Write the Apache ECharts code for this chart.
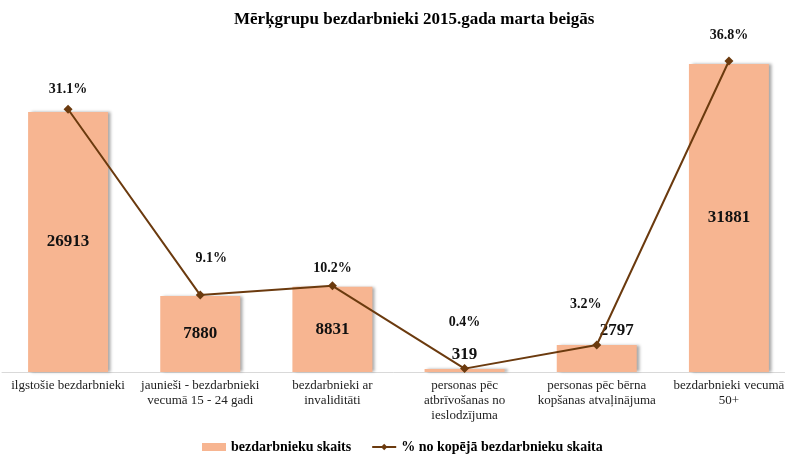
<!DOCTYPE html>
<html>
<head>
<meta charset="utf-8">
<script src="https://cdn.jsdelivr.net/npm/echarts@6/dist/echarts.min.js"></script>
<style>
 html, body { margin: 0; padding: 0; background: #fff; }
 #chart { width: 785px; height: 454px; }
</style>
</head>
<body>
<div id="chart"></div>
<script>
const categories = [
 'ilgstošie bezdarbnieki',
 'jaunieši - bezdarbnieki\nvecumā 15 - 24 gadi',
 'bezdarbnieki ar\ninvaliditāti',
 'personas pēc\natbrīvošanas no\nieslodzījuma',
 'personas pēc bērna\nkopšanas atvaļinājuma',
 'bezdarbnieki vecumā\n50+'
]
const counts = [26913, 7880, 8831, 319, 2797, 31881]
const shares = [31.1, 9.1, 10.2, 0.4, 3.2, 36.8]

// label nudges
const countLabelPos = ['inside', 'inside', 'inside', 'top', 'top', 'inside']
const countLabelOffset = [[0, 0], [0, 0], [0, 0], [0, 0], [20, 0], [0, 0]]
const shareLabelOffset = [[0, -3], [11, -20], [0, -1], [0, -30], [-11, -24], [0, -9]]

const serif = '"Liberation Serif", "Times New Roman", serif'
const barColor = '#F7B591'
const lineColor = '#6B3A0E'

const chart = echarts.init(document.getElementById('chart'))

chart.setOption({
 animation: false,
 backgroundColor: '#fff',
 title: {
 text: 'Mērķgrupu bezdarbnieki 2015.gada marta beigās',
 left: 229,
 top: 6,
 textStyle: { fontFamily: serif, fontSize: 17, fontWeight: 'bold', color: '#000' }
 },
 legend: {
 top: 435,
 left: 197,
 itemGap: 20,
 textStyle: { fontFamily: serif, fontSize: 14, fontWeight: 'bold', color: '#000' },
 data: [
 { name: 'bezdarbnieku skaits', icon: 'rect', itemStyle: { shadowBlur: 0, shadowOffsetX: 0 } },
 { name: '% no kopējā bezdarbnieku skaita' }
 ],
 itemWidth: 24,
 itemHeight: 8
 },
 grid: { left: 2, right: -10, top: 34, bottom: 82, outerBoundsMode: 'none' },
 xAxis: {
 type: 'category',
 data: categories,
 axisLine: { lineStyle: { color: '#d9d9d9', width: 1 } },
 axisTick: { show: false },
 axisLabel: {
 interval: 0,
 fontFamily: serif,
 fontSize: 13,
 lineHeight: 15,
 color: '#222',
 margin: 6
 }
 },
 yAxis: [
 { type: 'value', min: 0, max: 35000, show: false },
 { type: 'value', min: 0, max: 40, show: false }
 ],
 series: [
 {
 name: 'bezdarbnieku skaits',
 type: 'bar',
 barWidth: 80,
 yAxisIndex: 0,
 itemStyle: {
 color: barColor,
 shadowColor: 'rgba(0,0,0,0.35)',
 shadowBlur: 3,
 shadowOffsetX: 3,
 shadowOffsetY: 0
 },
 data: counts.map((v, i) => ({
 value: v,
 label: { position: countLabelPos[i], offset: countLabelOffset[i] }
 })),
 label: {
 show: true,
 distance: 6,
 fontFamily: serif,
 fontSize: 17,
 fontWeight: 'bold',
 color: '#111'
 }
 },
 {
 name: '% no kopējā bezdarbnieku skaita',
 type: 'line',
 yAxisIndex: 1,
 symbol: 'diamond',
 symbolSize: 9,
 lineStyle: { color: lineColor, width: 2 },
 itemStyle: { color: lineColor },
 data: shares.map((v, i) => ({
 value: v,
 label: { offset: shareLabelOffset[i] }
 })),
 label: {
 show: true,
 position: 'top',
 formatter: p => p.value.toFixed(1) + '%',
 fontFamily: serif,
 fontSize: 14,
 fontWeight: 'bold',
 color: '#111'
 }
 }
 ]
})
</script>
</body>
</html>
